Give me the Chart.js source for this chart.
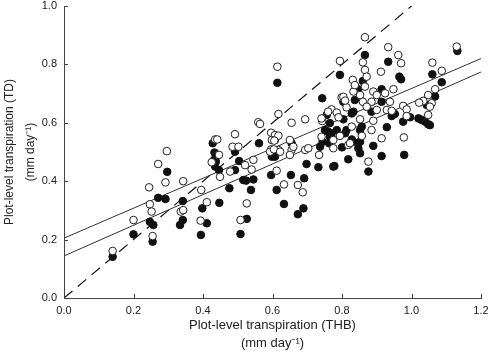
<!DOCTYPE html>
<html>
<head>
<meta charset="utf-8">
<script src="https://cdn.jsdelivr.net/npm/chart.js@4.4.1/dist/chart.umd.min.js"></script>
<style>
html,body{margin:0;padding:0;background:#fff;}
#wrap{width:490px;height:362px;}
</style>
</head>
<body>
<div id="wrap"><canvas id="c" width="490" height="362"></canvas></div>
<script>
// Open circles: [THB, TD]
const openPoints = [
[.14,.161],[.20,.267],[.245,.379],[.271,.459],[.296,.503],[.292,.396],[.247,.321],[.252,.296],[.255,.212],
[.343,.40],[.336,.296],[.343,.301],[.395,.37],[.393,.265],[.411,.328],[.508,.267],[.435,.543],[.441,.543],
[.446,.49],[.425,.465],[.449,.415],[.492,.561],[.485,.518],[.502,.518],[.478,.433],[.614,.792],[.794,.812],
[.617,.630],[.559,.602],[.564,.596],[.655,.600],[.694,.612],[.743,.606],[.799,.687],[.596,.566],[.607,.558],
[.617,.556],[.655,.507],[.66,.518],[.694,.507],[.703,.513],[.596,.509],[.617,.507],[.734,.49],[.612,.436],
[.633,.389],[.673,.387],[.687,.362],[.526,.324],[.545,.473],[.65,.49],[.866,.893],[.933,.859],[.962,.832],
[.97,.804],[.86,.807],[.912,.775],[.866,.781],[.871,.758],[.831,.747],[.866,.724],[.833,.707],[.852,.695],
[.89,.707],[.90,.695],[.924,.701],[.948,.715],[.86,.672],[.885,.672],[.938,.672],[.804,.689],[.813,.653],
[.871,.655],[.90,.644],[.929,.644],[.943,.641],[.976,.658],[.986,.646],[.986,.623],[.852,.612],[.89,.607],
[.828,.587],[.885,.575],[.914,.547],[.978,.55],[.818,.524],[.876,.467],[1.13,.861],[1.06,.806],[1.087,.778],
[1.068,.715],[1.048,.695],[1.034,.675],[1.022,.669],[1.058,.667],[1.053,.655],[1.048,.627],[.598,.541],
[.605,.539],[.65,.541],[.54,.44],[.521,.455],[.593,.501],[.604,.509],[.622,.501],[.837,.729],[.809,.676],
[.77,.646],[.76,.638],[.741,.615],[.785,.635],[.79,.619],[.775,.541],[.794,.555],[.741,.552],[.775,.513],
[.823,.53],[.857,.555]
];
// Filled circles: [THB, TD]
const filledPoints = [
[.14,.141],[.20,.218],[.297,.432],[.271,.343],[.292,.339],[.247,.261],[.257,.25],[.255,.193],[.342,.332],
[.342,.267],[.334,.25],[.398,.307],[.411,.256],[.394,.216],[.447,.326],[.476,.376],[.508,.219],[.428,.530],
[.433,.498],[.435,.45],[.446,.438],[.492,.501],[.504,.469],[.492,.438],[.516,.404],[.614,.737],[.794,.764],
[.743,.684],[.561,.53],[.598,.484],[.698,.459],[.732,.448],[.778,.452],[.818,.475],[.653,.421],[.691,.41],
[.596,.421],[.545,.406],[.524,.402],[.538,.37],[.612,.37],[.633,.322],[.689,.307],[.673,.287],[.526,.271],
[.866,.832],[.933,.809],[.965,.758],[.97,.749],[.86,.743],[.847,.715],[.914,.715],[.837,.678],[.914,.672],
[.804,.672],[.833,.638],[.885,.638],[.943,.623],[.952,.63],[.976,.604],[.804,.612],[.852,.575],[.857,.587],
[.929,.585],[.89,.521],[.809,.564],[.813,.575],[.847,.513],[.852,.496],[.914,.486],[.979,.49],[.833,.535],
[.80,.516],[.876,.433],[1.132,.846],[1.06,.766],[1.087,.739],[1.068,.69],[1.044,.661],[1.02,.615],[1.029,.61],
[1.039,.604],[1.048,.595],[1.053,.592],[.996,.619],[.655,.53],[.432,.473],[.437,.467],[.607,.484],[.756,.627],
[.751,.575],[.76,.57],[.77,.564],[.785,.575],[.765,.552],[.763,.53],[.744,.535],[.737,.518],[.775,.45],
[.828,.543],[.852,.535],[.765,.599],[.607,.541],[.828,.632]
];
// Regression lines and 1:1 line (x ends and fitted y values)
const fitX = [0, 1.2];
const fitUpper = [0.205, 0.82];
const fitLower = [0.144, 0.774];
const oneToOneX = [0, 1.0];
const oneToOneY = [0, 1.0];
const xTicks = [0, 0.2, 0.4, 0.6, 0.8, 1.0, 1.2];
const yTicks = [0, 0.2, 0.4, 0.6, 0.8, 1.0];

const toXY = arr => arr.map(p => ({x: p[0], y: p[1]}));
const zip = (xs, ys) => xs.map((x, i) => ({x, y: ys[i]}));

const AXIS = '#444';
const FONT = "'Liberation Sans', Arial, sans-serif";

const innerTicks = {
  id: 'innerTicks',
  afterDraw(chart) {
    const ctx = chart.ctx;
    const xs = chart.scales.x, ys = chart.scales.y;
    ctx.save();
    ctx.strokeStyle = AXIS;
    ctx.lineWidth = 1;
    ctx.beginPath();
    xs.ticks.forEach((t, i) => {
      const px = Math.round(xs.getPixelForTick(i)) + 0.5;
      ctx.moveTo(px, xs.top);
      ctx.lineTo(px, xs.top - 4);
    });
    ys.ticks.forEach((t, i) => {
      const py = Math.round(ys.getPixelForTick(i)) + 0.5;
      ctx.moveTo(ys.right, py);
      ctx.lineTo(ys.right + 4, py);
    });
    ctx.stroke();
    ctx.restore();
  }
};

new Chart(document.getElementById('c'), {
  type: 'scatter',
  data: {
    datasets: [
      {
        type: 'line', data: zip(oneToOneX, oneToOneY), borderColor: '#111', borderWidth: 1.2,
        borderDash: [11, 7], pointRadius: 0, fill: false, order: 5
      },
      {
        type: 'line', data: zip(fitX, fitUpper), borderColor: '#333', borderWidth: 1,
        pointRadius: 0, fill: false, order: 4
      },
      {
        type: 'line', data: zip(fitX, fitLower), borderColor: '#333', borderWidth: 1,
        pointRadius: 0, fill: false, order: 4
      },
      {
        data: toXY(filledPoints), backgroundColor: '#111', borderColor: '#111', borderWidth: 1,
        pointRadius: 3.8, order: 2
      },
      {
        data: toXY(openPoints), backgroundColor: '#fff', borderColor: '#222', borderWidth: 1,
        pointRadius: 3.8, order: 1
      }
    ]
  },
  options: {
    responsive: false,
    animation: false,
    devicePixelRatio: 1,
    layout: {padding: {top: 6, right: 9, left: 0, bottom: 0}},
    plugins: {legend: {display: false}, tooltip: {enabled: false}},
    scales: {
      x: {
        type: 'linear', min: 0, max: 1.2,
        afterBuildTicks: s => { s.ticks = xTicks.map(v => ({value: v})); },
        afterFit: s => { s.height = 64; s.paddingLeft = 0; s.paddingRight = 0; },
        grid: {display: true, drawOnChartArea: false, drawTicks: false},
        border: {display: true, color: AXIS, width: 1},
        ticks: {
          padding: 6, color: '#222', font: {family: FONT, size: 11},
          callback: v => Number(v).toFixed(1)
        },
        title: {
          display: true, text: ['Plot-level transpiration (THB)', '(mm day\u207B\u00B9)'],
          color: '#222', font: {family: FONT, size: 13, lineHeight: '18px'},
          padding: {top: 0, bottom: 10}
        }
      },
      y: {
        type: 'linear', min: 0, max: 1.0,
        afterBuildTicks: s => { s.ticks = yTicks.map(v => ({value: v})); },
        afterFit: s => { s.width = 64; s.paddingTop = 0; s.paddingBottom = 0; },
        grid: {display: true, drawOnChartArea: false, drawTicks: false},
        border: {display: true, color: AXIS, width: 1},
        ticks: {
          padding: 7, color: '#222', font: {family: FONT, size: 11},
          callback: v => Number(v).toFixed(1)
        },
        title: {
          display: true, text: ['Plot-level transpiration (TD)', '(mm day\u207B\u00B9)'],
          color: '#222', font: {family: FONT, size: 12, lineHeight: '21px'},
          padding: {top: -1, bottom: 0}
        }
      }
    }
  },
  plugins: [innerTicks]
});
</script>
</body>
</html>
